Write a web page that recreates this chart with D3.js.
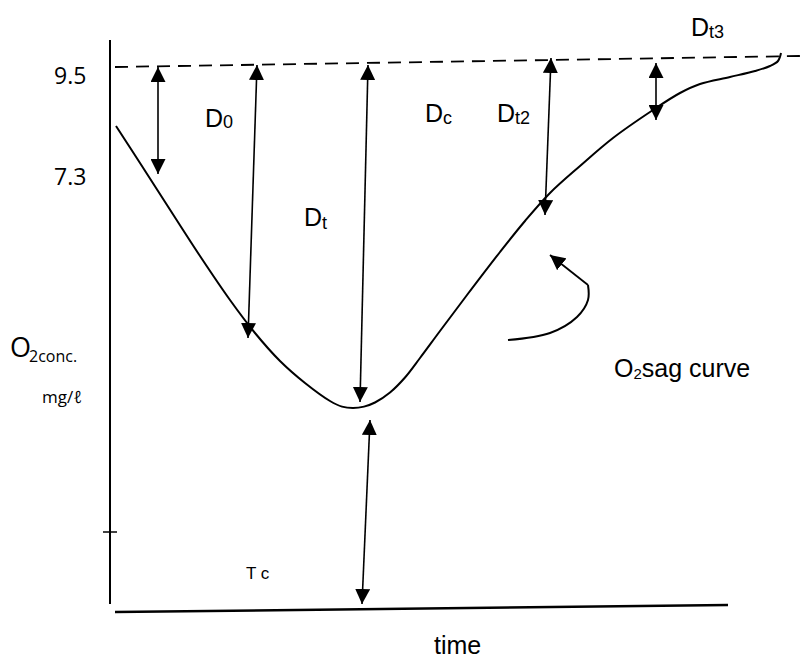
<!DOCTYPE html>
<html>
<head>
<meta charset="utf-8">
<script src="https://cdn.jsdelivr.net/npm/d3@7/dist/d3.min.js"></script>
<style>
  html, body { margin: 0; padding: 0; background: #fff; }
  svg { display: block; }
</style>
</head>
<body>
<svg id="chart" width="800" height="660"></svg>
<script>
// ---------- DATA (diagram units: time along x, O2 along y) ----------
// O2 sag curve
const sagTime = [1.6, 4.0, 6.7, 10.0, 13.0, 15.5, 18.0, 20.5, 23.0, 24.2, 25.3, 26.4, 27.5, 29.0, 30.5, 32.0, 34.0, 36.7, 40.0, 42.5, 45.0, 48.0, 51.3, 55.3, 58.0, 60.0, 63.0, 65.5, 67.0, 67.8, 68.1];
const sagO2   = [49.4, 45.7, 41.5, 36.4, 32.0, 28.7, 25.9, 23.7, 21.9, 21.34, 21.2, 21.34, 21.75, 22.75, 24.25, 26.2, 28.9, 32.5, 36.8, 39.9, 42.7, 45.4, 48.2, 51.0, 52.7, 53.6, 54.3, 54.9, 55.4, 55.9, 56.7];
// saturation (dashed) line
const satTime = [1.5, 70.0];
const satO2   = [55.3, 56.4];
// deficit arrows: [time1, o2_1] -> [time2, o2_2]
const arrowNames = ["d1", "D0", "Dt", "Tc", "Dt2", "Dt3"];
const arrowT1 = [5.8, 15.7, 26.8, 27.0, 45.1, 55.6];
const arrowY1 = [55.3, 55.5, 55.5, 20.0, 56.2, 55.7];
const arrowT2 = [5.8, 14.8, 26.0, 26.2, 44.5, 55.6];
const arrowY2 = [44.6, 28.2, 21.8, 1.6, 40.5, 50.0];
// pointer to the curve
const pointerTime = [40.8, 45.0, 47.7, 48.8, 48.8];
const pointerO2   = [28.0, 28.7, 30.3, 32.0, 33.5];
const pointerTip  = [45.0, 36.5];
// axes
const yAxisTime = [1.0, 1.0], yAxisO2 = [58.0, 1.6];
const xAxisTime = [1.5, 62.8], xAxisO2 = [0.8, 1.5];
const tickTime = [0.3, 1.7], tickO2 = [8.8, 8.8];
// tick labels
const yTickLabels = ["9.5", "7.3"];

// ---------- SCALES ----------
const x = d3.scaleLinear().domain([0, 70]).range([100, 800]);
const y = d3.scaleLinear().domain([0, 60]).range([620, 20]);

const svg = d3.select("#chart");
const defs = svg.append("defs");
defs.append("marker")
  .attr("id", "head")
  .attr("viewBox", "0 0 10 10")
  .attr("refX", 10).attr("refY", 5)
  .attr("markerWidth", 15).attr("markerHeight", 15)
  .attr("markerUnits", "userSpaceOnUse")
  .attr("orient", "auto-start-reverse")
  .append("path").attr("d", "M0,0 L10,5 L0,10 Z").attr("fill", "#000");

const line = d3.line().x(d => x(d[0])).y(d => y(d[1]));
const smooth = d3.line().x(d => x(d[0])).y(d => y(d[1])).curve(d3.curveCatmullRom.alpha(0.5));
const zip = (a, b) => a.map((v, i) => [v, b[i]]);

// axes
svg.append("path").attr("d", line(zip(yAxisTime, yAxisO2)))
  .attr("stroke", "#000").attr("stroke-width", 2).attr("fill", "none");
svg.append("path").attr("d", line(zip(xAxisTime, xAxisO2)))
  .attr("stroke", "#000").attr("stroke-width", 2.5).attr("fill", "none");
svg.append("path").attr("d", line(zip(tickTime, tickO2)))
  .attr("stroke", "#000").attr("stroke-width", 1.5).attr("fill", "none");

// saturation dashed line
svg.append("path").attr("d", line(zip(satTime, satO2)))
  .attr("stroke", "#000").attr("stroke-width", 1.8).attr("fill", "none")
  .attr("stroke-dasharray", "13,8");

// sag curve
svg.append("path")
  .attr("d", smooth(zip(sagTime, sagO2)))
  .attr("stroke", "#000").attr("stroke-width", 2).attr("fill", "none");

// deficit arrows
svg.selectAll("line.arrow").data(arrowNames).join("line")
  .attr("class", "arrow")
  .attr("x1", (d, i) => x(arrowT1[i])).attr("y1", (d, i) => y(arrowY1[i]))
  .attr("x2", (d, i) => x(arrowT2[i])).attr("y2", (d, i) => y(arrowY2[i]))
  .attr("stroke", "#000").attr("stroke-width", 1.6)
  .attr("marker-start", "url(#head)").attr("marker-end", "url(#head)");

// pointer arrow
const pPts = zip(pointerTime, pointerO2);
svg.append("path")
  .attr("d", smooth(pPts))
  .attr("stroke", "#000").attr("stroke-width", 2).attr("fill", "none");
svg.append("line")
  .attr("x1", x(pPts[pPts.length - 1][0])).attr("y1", y(pPts[pPts.length - 1][1]))
  .attr("x2", x(pointerTip[0])).attr("y2", y(pointerTip[1]))
  .attr("stroke", "#000").attr("stroke-width", 1.8)
  .attr("marker-end", "url(#head)");

// ---------- TEXT ----------
const sans = "'Liberation Sans', Arial, sans-serif";
const open = "'Open Sans', sans-serif";

// y tick labels
svg.append("text").text(yTickLabels[0]).attr("x", 54).attr("y", 84)
  .attr("font-family", open).attr("font-size", 23).attr("fill", "#000");
svg.append("text").text(yTickLabels[1]).attr("x", 54).attr("y", 185)
  .attr("font-family", open).attr("font-size", 23).attr("fill", "#000");

function subLabel(xp, yp, main, sub, size, subSize, dy, fam) {
  const t = svg.append("text").attr("x", xp).attr("y", yp)
    .attr("font-family", fam || sans).attr("font-size", size).attr("fill", "#000");
  t.append("tspan").text(main);
  t.append("tspan").text(sub).attr("font-size", subSize).attr("dy", dy);
  return t;
}
subLabel(205, 127, "D", "0", 25, 18, 1);
subLabel(304, 226, "D", "t", 25, 18, 3);
subLabel(425, 122, "D", "c", 25, 18, 2);
subLabel(497, 122, "D", "t2", 25, 18, 2);
subLabel(691, 36, "D", "t3", 25, 18, 2);

// y axis label
const oc = svg.append("text").attr("x", 10).attr("y", 357)
  .attr("font-family", open).attr("font-size", 27).attr("fill", "#000");
oc.append("tspan").text("O");
oc.append("tspan").text("2conc.").attr("font-size", 16).attr("dy", 5).attr("dx", -2);
svg.append("text").text("mg/ℓ").attr("x", 42).attr("y", 403)
  .attr("font-family", open).attr("font-size", 17).attr("fill", "#000");

// Tc
svg.append("text").text("T c").attr("x", 246).attr("y", 579)
  .attr("font-family", sans).attr("font-size", 17).attr("fill", "#000");

// O2 sag curve label
const sg = svg.append("text").attr("x", 614).attr("y", 377)
  .attr("font-family", sans).attr("font-size", 25).attr("fill", "#000");
sg.append("tspan").text("O");
sg.append("tspan").text("2").attr("font-size", 15).attr("dy", 2);
sg.append("tspan").text("sag curve").attr("dy", -2);

// x axis label
svg.append("text").text("time").attr("x", 434).attr("y", 654)
  .attr("font-family", sans).attr("font-size", 25).attr("fill", "#000");
</script>
</body>
</html>
